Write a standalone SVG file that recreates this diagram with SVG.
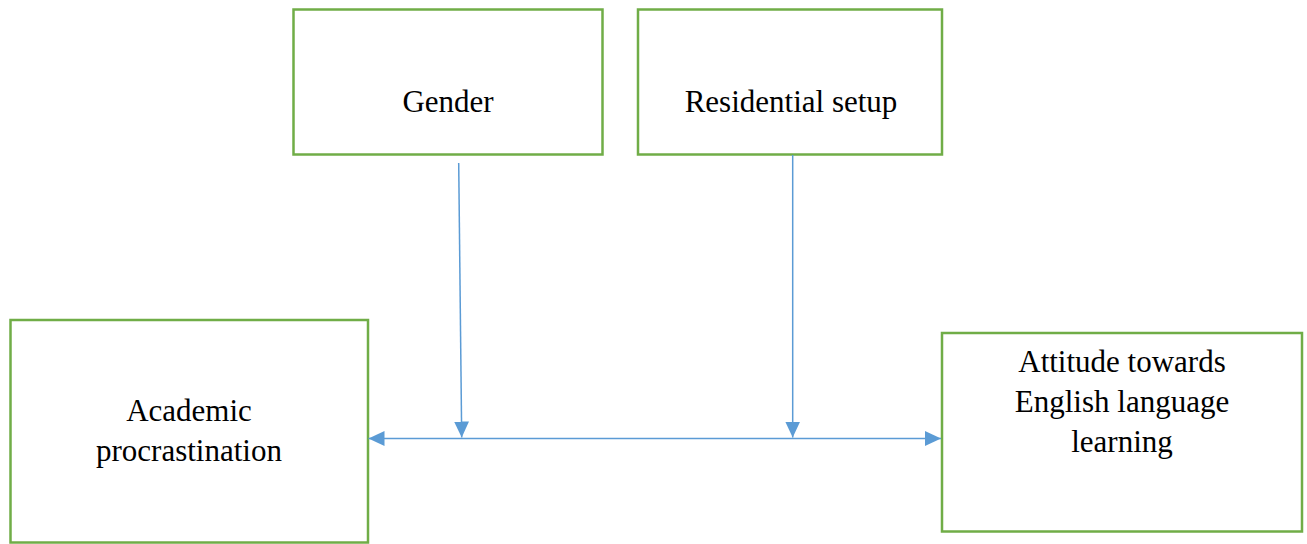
<svg xmlns="http://www.w3.org/2000/svg" width="1307" height="544" viewBox="0 0 1307 544">
<style>
.box{fill:#ffffff;stroke:#70AD47;stroke-width:2.5}
.lbl{font-family:"Liberation Serif","Times New Roman",serif;font-size:31px;fill:#000000;text-anchor:middle}
.conn{stroke:#5B9BD5;stroke-width:1.5;fill:none}
</style>
<defs>
<marker id="arr" viewBox="0 0 16 15" markerWidth="16" markerHeight="15" refX="16" refY="7.5" orient="auto" markerUnits="userSpaceOnUse">
<path d="M0,0 L16,7.5 L0,15 Z" fill="#5B9BD5"/>
</marker>
</defs>
<rect width="1307" height="544" fill="#ffffff"/>
<g id="gender">
<rect class="box" x="293.5" y="9.5" width="309" height="145"/>
<text class="lbl" x="448" y="112">Gender</text>
</g>
<g id="residential">
<rect class="box" x="638" y="9.5" width="304" height="145"/>
<text class="lbl" x="791" y="112">Residential setup</text>
</g>
<g id="academic">
<rect class="box" x="10.5" y="320" width="357.5" height="222.5"/>
<text class="lbl" x="189" y="421">Academic</text>
<text class="lbl" x="189" y="461">procrastination</text>
</g>
<g id="attitude">
<rect class="box" x="942" y="333" width="360" height="198.5"/>
<text class="lbl" x="1122" y="372">Attitude towards</text>
<text class="lbl" x="1122" y="412">English language</text>
<text class="lbl" x="1122" y="452">learning</text>
</g>
<g id="connectors">
<line class="conn" x1="654" y1="438.5" x2="368.5" y2="438.5" marker-end="url(#arr)"/>
<line class="conn" x1="654" y1="438.5" x2="941" y2="438.5" marker-end="url(#arr)"/>
<line class="conn" x1="458.7" y1="163" x2="461.7" y2="437.5" marker-end="url(#arr)"/>
<line class="conn" x1="792.7" y1="155" x2="792.7" y2="437.5" marker-end="url(#arr)"/>
</g>
</svg>
